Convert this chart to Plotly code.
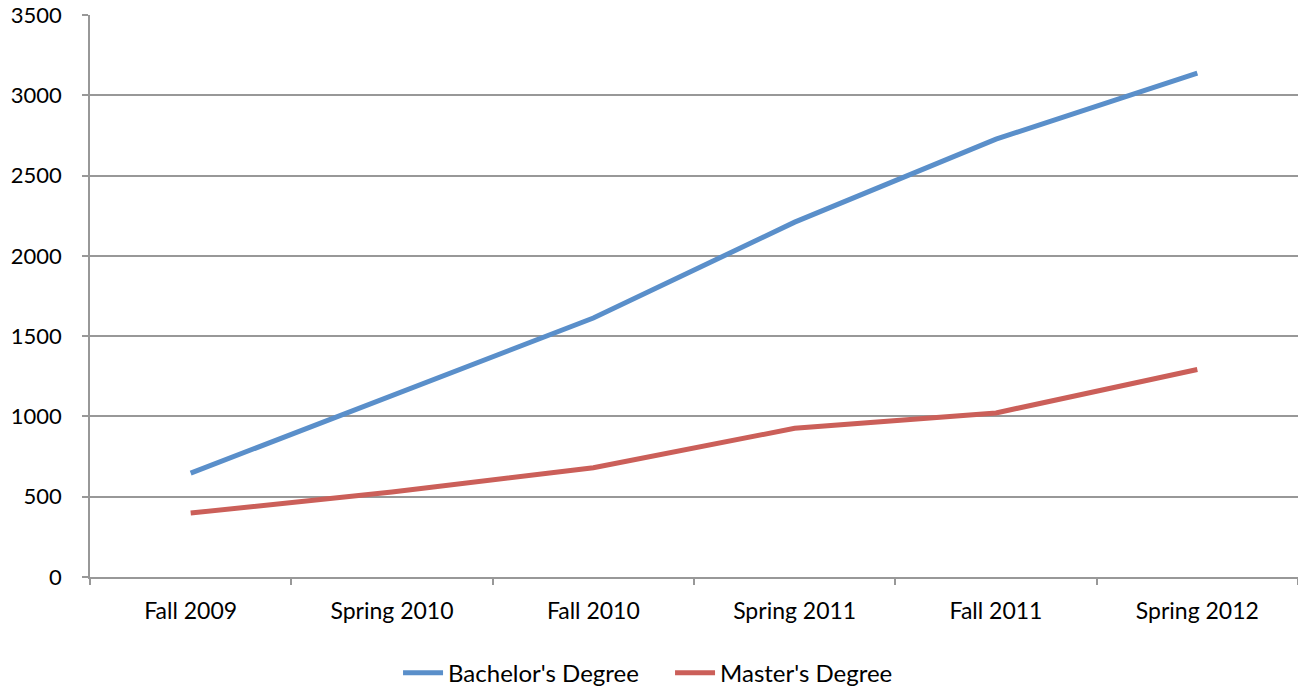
import plotly.graph_objects as go

categories = ["Fall 2009", "Spring 2010", "Fall 2010", "Spring 2011", "Fall 2011", "Spring 2012"]
bachelor = [647, 1127, 1613, 2210, 2727, 3138]
master = [398, 529, 680, 926, 1022, 1292]
y_ticks = [0, 500, 1000, 1500, 2000, 2500, 3000, 3500]

FONT = "Lato, Calibri, Carlito, sans-serif"
GRID = "#989898"

fig = go.Figure()
fig.add_trace(go.Scatter(x=categories, y=bachelor, mode="lines", name="Bachelor's Degree",
                         line=dict(color="#5A8FCA", width=5)))
fig.add_trace(go.Scatter(x=categories, y=master, mode="lines", name="Master's Degree",
                         line=dict(color="#CB5F59", width=5)))

fig.update_layout(
    width=1298, height=690,
    margin=dict(l=90, r=0, t=15, b=113, autoexpand=False),
    paper_bgcolor="white", plot_bgcolor="white",
    font=dict(family=FONT, size=23, color="#000000"),
    showlegend=True,
    legend=dict(orientation="h", x=0.255, xanchor="left", y=-0.131, yanchor="top",
                font=dict(family=FONT, size=24), itemwidth=40, entrywidth=217,
                traceorder="normal"),
    xaxis=dict(type="category", range=[-0.5, 5.5], showgrid=False, automargin=False,
               showline=True, linecolor=GRID, linewidth=1.5,
               ticks="outside", tickson="boundaries", ticklen=6, tickcolor=GRID, tickwidth=1.5,
               ticklabelstandoff=13, zeroline=False),
    yaxis=dict(range=[0, 3500], tickvals=y_ticks, showgrid=True, gridcolor=GRID, gridwidth=1.5,
               automargin=False, tickfont=dict(size=22),
               showline=True, linecolor=GRID, linewidth=1.5,
               ticks="outside", ticklen=6, tickcolor=GRID, tickwidth=1.5,
               ticklabelstandoff=16, zeroline=False),
)

fig.write_html("out.html", config={"displayModeBar": False},
               post_script="document.body.style.margin='0';")
